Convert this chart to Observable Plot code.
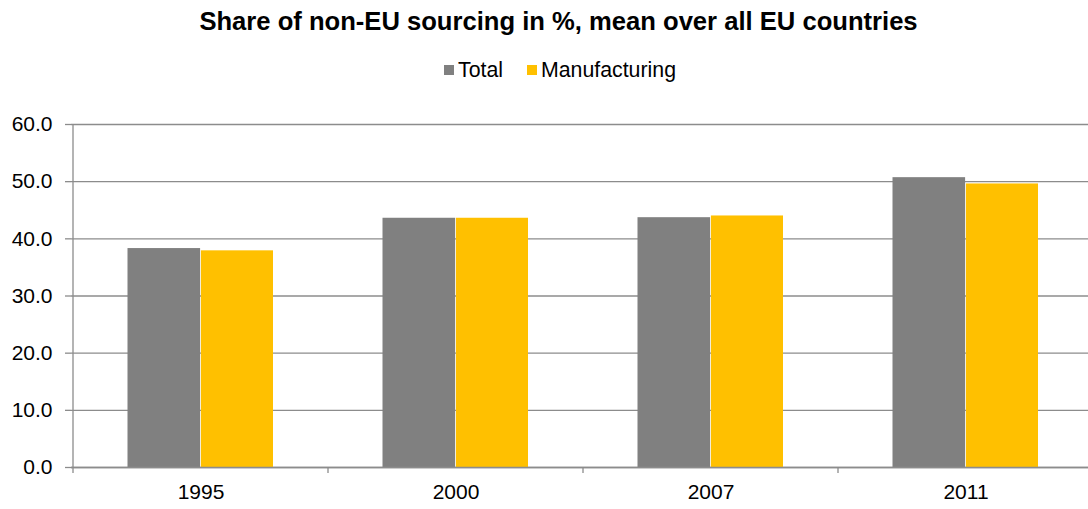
<!DOCTYPE html>
<html>
<head>
<meta charset="utf-8">
<script src="https://cdn.jsdelivr.net/npm/d3@7"></script>
<script src="https://cdn.jsdelivr.net/npm/@observablehq/plot@0.6"></script>
<style>
  html, body { margin: 0; padding: 0; background: #fff; overflow: hidden; }
  body { width: 1088px; height: 509px; position: relative; font-family: "Liberation Sans", Arial, sans-serif; }
  #title { position: absolute; left: 0; width: 1117px; top: 6px; text-align: center; font-weight: bold; font-size: 25.6px; line-height: 30px; color: #000; }
  #legend { position: absolute; left: 0; width: 1120px; top: 57px; display: flex; justify-content: center; gap: 24px; font-size: 21.3px; line-height: 26px; color: #000; }
  #legend span.item { display: inline-flex; align-items: center; }
  #legend span.sw { display: inline-block; width: 10px; height: 10px; margin-right: 4px; }
  #chart { position: absolute; left: 0; top: 100px; }
</style>
</head>
<body>
<div id="title"></div>
<div id="legend"></div>
<div id="chart"></div>
<script>
const titleText = "Share of non-EU sourcing in %, mean over all EU countries";
const years = ["1995", "2000", "2007", "2011"];
const seriesNames = ["Total", "Manufacturing"];
const seriesColors = ["#808080", "#FFC000"];
const totalValues = [38.3, 43.6, 43.7, 50.7];
const manufacturingValues = [37.9, 43.6, 44.0, 49.6];
const yTicks = [0, 10, 20, 30, 40, 50, 60];

document.getElementById("title").textContent = titleText;
const legend = document.getElementById("legend");
seriesNames.forEach((name, i) => {
  const item = document.createElement("span");
  item.className = "item";
  const sw = document.createElement("span");
  sw.className = "sw";
  sw.style.background = seriesColors[i];
  item.appendChild(sw);
  item.appendChild(document.createTextNode(name));
  legend.appendChild(item);
});

const totalRows = years.map((year, i) => ({year, series: seriesNames[0], value: totalValues[i]}));
const manufRows = years.map((year, i) => ({year, series: seriesNames[1], value: manufacturingValues[i]}));

const gridColor = "#8c8c8c";

// axis line and category-boundary ticks
function axisDecor(index, scales, values, dimensions) {
  const x = scales.x, y = scales.y;
  const bw = typeof x.bandwidth === "function" ? x.bandwidth() : x.bandwidth;
  const g = d3.create("svg:g").attr("stroke", gridColor).attr("stroke-width", 1.3);
  const y0 = y(0), yTop = y(60);
  g.append("line").attr("x1", x(years[0])).attr("x2", x(years[0])).attr("y1", yTop).attr("y2", y0 + 6);
  const edges = years.map(d => x(d)).concat([x(years[years.length - 1]) + bw]);
  edges.slice(1).forEach(e => {
    g.append("line").attr("x1", e).attr("x2", e).attr("y1", y0).attr("y2", y0 + 6);
  });
  return g.node();
}

const plot = Plot.plot({
  width: 1088,
  height: 409,
  marginTop: 24,
  marginBottom: 42,
  marginLeft: 71,
  marginRight: 0,
  style: {fontFamily: "'Liberation Sans', Arial, sans-serif", fontSize: "21px", color: "#000", background: "#fff"},
  x: {domain: years, range: [71, 1094], padding: 0, label: null},
  y: {domain: [0, 60], label: null},
  marks: [
    Plot.ruleY(yTicks, {stroke: gridColor, strokeWidth: 1.3}),
    Plot.barY(totalRows, {x: "year", y: "value", fill: seriesColors[0], insetLeft: 54.5, insetRight: 127.9}),
    Plot.barY(manufRows, {x: "year", y: "value", fill: seriesColors[1], insetLeft: 127.9, insetRight: 55}),
    Plot.ruleY([0], {stroke: gridColor, strokeWidth: 1.5}),
    axisDecor,
    Plot.axisY({ticks: yTicks, tickFormat: d => d.toFixed(1), tickSize: 6, tickPadding: 13, stroke: gridColor, strokeWidth: 1.3, fill: "#000", fontSize: 21, label: null}),
    Plot.axisX({tickSize: 0, tickPadding: 17, fill: "#000", fontSize: 21, label: null})
  ]
});
document.getElementById("chart").appendChild(plot);
</script>
</body>
</html>
